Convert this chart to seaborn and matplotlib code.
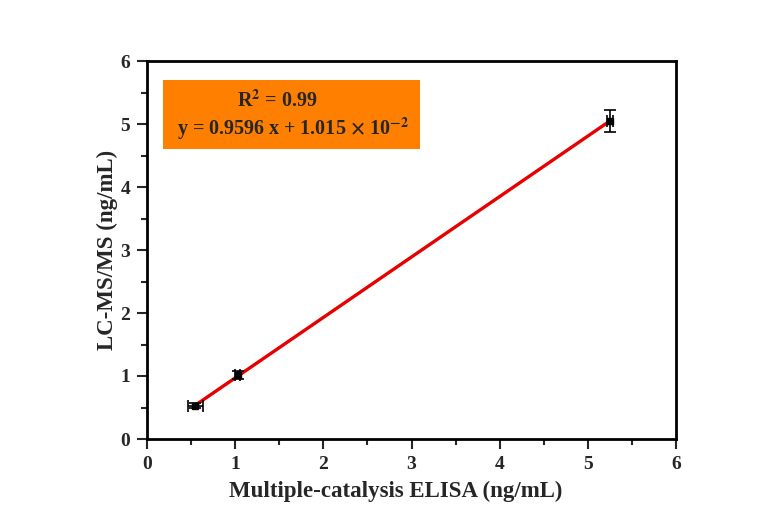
import numpy as np
import matplotlib
matplotlib.use('Agg')
import matplotlib.pyplot as plt
import seaborn as sns
from matplotlib.patches import Rectangle
from matplotlib.ticker import MultipleLocator

# measured data
elisa = [0.55, 1.03, 5.25]
lcms = [0.53, 1.02, 5.05]
elisa_err = [0.08, 0.03, 0.03]
lcms_err = [0.04, 0.06, 0.18]
slope = 0.9596
intercept = 1.015e-2

sns.set_theme(style='white')
plt.rcParams['font.family'] = ['Liberation Serif', 'DejaVu Serif']
plt.rcParams['mathtext.fontset'] = 'stix'

fig = plt.figure(figsize=(7.67, 5.19), dpi=100)
ax = fig.add_axes([147 / 767, 1 - 439 / 519, 529 / 767, 378 / 519])

fit_x = np.array([min(elisa), max(elisa)])
sns.lineplot(x=fit_x, y=slope * fit_x + intercept, color='#e60000', linewidth=2.4, ax=ax, zorder=2)
ax.errorbar(elisa, lcms, xerr=elisa_err, yerr=lcms_err, fmt='s', color='black',
            markersize=5, capsize=4, elinewidth=1.2, capthick=1.2, zorder=3)

ax.add_patch(Rectangle((0.18, 4.60), 2.92, 1.10, facecolor='#ff8000', edgecolor='none', zorder=1))
ax.text(1.48, 5.37, r'R$^\mathbf{2}$ = 0.99', fontsize=14.5, fontweight='bold', ha='center', va='center')
ax.text(1.66, 4.93, r'y = 0.9596 x + 1.015 $\mathbf{\times}$ 10$^\mathbf{-2}$', fontsize=14.5,
        fontweight='bold', ha='center', va='center')

ax.set_xlim(0, 6)
ax.set_ylim(0, 6)
ax.xaxis.set_major_locator(MultipleLocator(1))
ax.xaxis.set_minor_locator(MultipleLocator(0.5))
ax.yaxis.set_major_locator(MultipleLocator(1))
ax.yaxis.set_minor_locator(MultipleLocator(0.5))
ax.tick_params(which='major', direction='out', length=7, width=1.5, bottom=True, left=True,
               labelsize=14, pad=5)
ax.tick_params(which='minor', direction='out', length=4, width=1.5, bottom=True, left=True)
for lab in ax.get_xticklabels() + ax.get_yticklabels():
    lab.set_fontweight('bold')
for sp in ax.spines.values():
    sp.set_linewidth(2)
    sp.set_color('black')

ax.set_xlabel('Multiple-catalysis ELISA (ng/mL)', fontsize=16.5, fontweight='bold', labelpad=6, x=0.47)
ax.set_ylabel('LC-MS/MS (ng/mL)', fontsize=16.5, fontweight='bold', labelpad=2)

plt.savefig('out.png', dpi=100)
plt.close()
